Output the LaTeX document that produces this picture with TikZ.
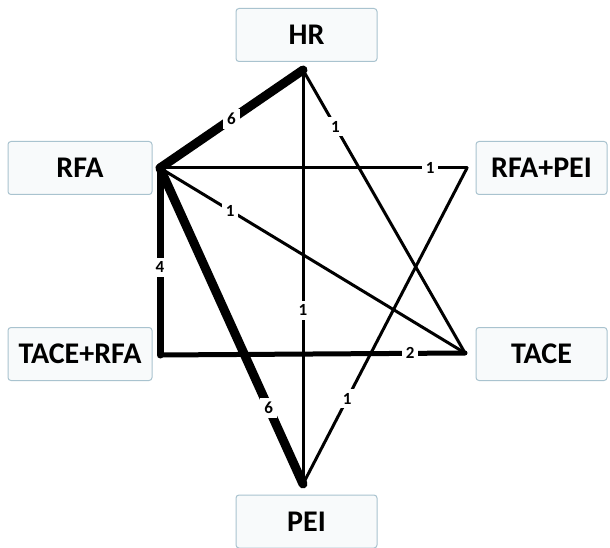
\documentclass[tikz,border=0pt]{standalone}
\usepackage{fontspec}
\setmainfont{Carlito}
\begin{document}
\begin{tikzpicture}[x=1pt,y=-1pt,
  box/.style={draw=boxline,fill=boxfill,line width=1pt,rounded corners=3pt,minimum height=53pt,inner sep=0pt,font=\bfseries\fontsize{30}{34}\selectfont,text=black},
  edge/.style={line join=round,line cap=round,draw=black},
  w1/.style={edge,line width=3pt},
  w2/.style={edge,line width=5pt},
  w4/.style={edge,line width=7pt},
  w6/.style={edge,line width=9pt},
  lab/.style={fill=white,inner xsep=4pt,inner ysep=4pt,font=\bfseries\fontsize{17}{19}\selectfont,text=black}]
\definecolor{boxline}{HTML}{A9C3CF}
\definecolor{boxfill}{HTML}{F8FAFB}
\useasboundingbox[fill=white] (0,0) rectangle (610,548);
% anchor points
\coordinate (pHR) at (303,70);
\coordinate (pRFA) at (160,168);
\coordinate (pRP) at (467,168);
\coordinate (pTR) at (160,355);
\coordinate (pTACE) at (465,353);
\coordinate (pPEI) at (303,484);
% edges
\draw[w1] (pHR) -- node[lab,pos=0.58]{1} (pPEI);
\draw[w1] (pHR) -- node[lab,pos=0.2]{1} (pTACE);
\draw[w1] (pRFA) -- node[lab,pos=0.88]{1} (pRP);
\draw[w1] (pRFA) -- node[lab,pos=0.23]{1} (pTACE);
\draw[w1] (pRP) -- node[lab,pos=0.73]{1} (pPEI);
\draw[w2] (pTR) -- node[lab,pos=0.82]{2} (pTACE);
\draw[w4] (pRFA) -- node[lab,pos=0.53]{4} (pTR);
\draw[w6] (pRFA) -- node[lab,pos=0.76]{6} (pPEI);
\draw[w6] (pHR) -- node[lab,pos=0.5]{6} (pRFA);
% boxes
\node[box,minimum width=141pt] (HR) at (306.5,35) {HR};
\node[box,minimum width=144pt] (RFA) at (80,168) {RFA};
\node[box,minimum width=131pt] (RFAPEI) at (541.5,168) {RFA+PEI};
\node[box,minimum width=144pt] (TACERFA) at (80,354) {TACE+RFA};
\node[box,minimum width=131pt] (TACE) at (541.5,354) {TACE};
\node[box,minimum width=141pt] (PEI) at (306.5,521.5) {PEI};
\end{tikzpicture}
\end{document}
